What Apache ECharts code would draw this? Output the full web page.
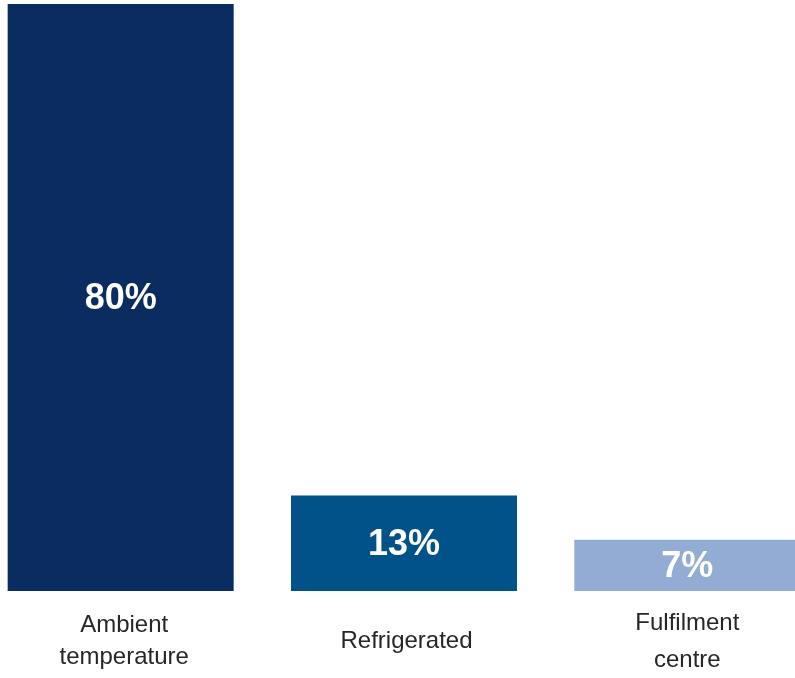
<!DOCTYPE html>
<html>
<head>
<meta charset="utf-8">
<script src="https://cdn.jsdelivr.net/npm/echarts@6/dist/echarts.min.js"></script>
<style>
  html, body { margin: 0; padding: 0; background: #ffffff; }
  #chart { width: 795px; height: 678px; }
</style>
</head>
<body>
<div id="chart"></div>
<script>
// Share of warehouse space by type (%)
const categories = ['Ambient\ntemperature', 'Refrigerated', 'Fulfilment\ncentre'];
const shares = [80, 13, 7];
const barColors = ['#0b2c61', '#005288', '#92acd4'];

// Per-line rich-text style keys for each category label (controls line spacing)
const labelLineStyles = [['amb', 'amb'], ['ref'], ['ful1', 'ful2']];

const labelFont = { fontFamily: 'Liberation Sans, Arial, sans-serif', fontSize: 24, color: '#262626' };

const chart = echarts.init(document.getElementById('chart'), null, { renderer: 'canvas' });

chart.setOption({
  animation: false,
  backgroundColor: '#ffffff',
  grid: { left: -21, width: 850, top: 4, bottom: 87, containLabel: false, outerBoundsMode: 'none' },
  xAxis: {
    type: 'category',
    data: categories,
    axisLine: { show: false },
    axisTick: { show: false },
    axisLabel: {
      interval: 0,
      margin: 18,
      verticalAlign: 'top',
      ...labelFont,
      formatter: (value, idx) => {
        const keys = labelLineStyles[idx];
        return value.split('\n').map((line, i) => '{' + keys[i] + '|' + line + '}').join('\n');
      },
      rich: {
        amb: { ...labelFont, lineHeight: 32, padding: [0, 0, 0, 7] },
        ref: { ...labelFont, lineHeight: 65, padding: [0, 0, 0, 5] },
        ful1: { ...labelFont, lineHeight: 28 },
        ful2: { ...labelFont, lineHeight: 46 }
      }
    }
  },
  yAxis: {
    type: 'value',
    min: 0,
    max: 80,
    show: false,
    splitLine: { show: false }
  },
  series: [{
    type: 'bar',
    barWidth: 226,
    data: shares.map((v, i) => ({ value: v, itemStyle: { color: barColors[i] } })),
    label: {
      show: true,
      position: 'inside',
      offset: [0, 2],
      formatter: '{c}%',
      fontFamily: 'Liberation Sans, Arial, sans-serif',
      fontWeight: 'bold',
      fontSize: 36,
      color: '#ffffff'
    }
  }]
});
</script>
</body>
</html>
